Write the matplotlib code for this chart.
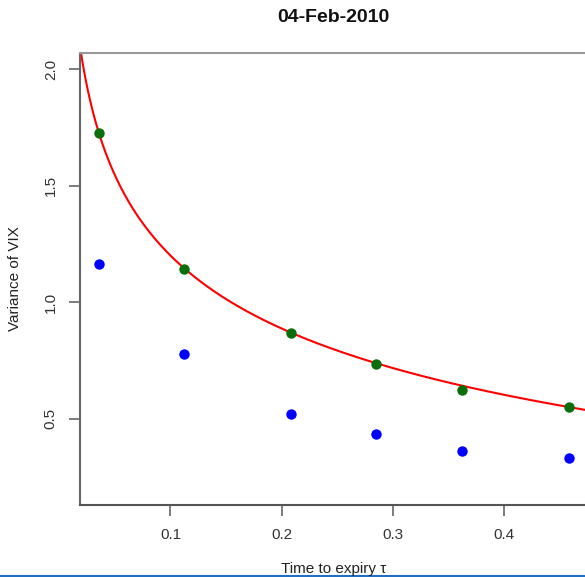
import numpy as np
import matplotlib
matplotlib.use("Agg")
import matplotlib.pyplot as plt
from matplotlib.lines import Line2D

plt.rcParams['font.family'] = ['Liberation Sans', 'DejaVu Sans']

# Data
tau = [0.0356, 0.1126, 0.2084, 0.2849, 0.3619, 0.4579]
var_model = [1.728, 1.141, 0.869, 0.733, 0.623, 0.550]   # green points
var_market = [1.164, 0.778, 0.521, 0.435, 0.362, 0.330]  # blue points
# fitted curve: v = a * tau^(-b) + c
curve_params = [2.456, 0.14, -2.190]
x_ticks = [0.1, 0.2, 0.3, 0.4]
y_ticks = [0.5, 1.0, 1.5, 2.0]
title = "04-Feb-2010"
xlabel = "Time to expiry \u03c4"
ylabel = "Variance of VIX"

W, H = 585, 577
fig = plt.figure(figsize=(W / 100, H / 100), dpi=100)
ax_left = 80 / W
ax_right = 587.5 / W
ax_bottom = (H - 504.7) / H
ax_top = (H - 52.7) / H
ax = fig.add_axes([ax_left, ax_bottom, ax_right - ax_left, ax_top - ax_bottom])

xlim = (0.0187, 0.4748)
ylim = (0.1305, 2.071)
a, b, c = curve_params
tt = np.linspace(xlim[0], xlim[1], 400)
ax.plot(tt, a * tt ** (-b) + c, color='#ff0000', lw=1.5, zorder=2)
ax.plot(tau, var_market, 'o', color='#0000ff', ms=7.5, mec='none', zorder=3)
ax.plot(tau, var_model, 'o', color='#0a6e0a', ms=7.5, mec='none', zorder=3)

ax.set_xlim(*xlim)
ax.set_ylim(*ylim)
ax.set_xticks(x_ticks)
ax.set_xticklabels([f"{v:.1f}" for v in x_ticks])
ax.set_yticks(y_ticks)
ax.set_yticklabels([f"{v:.1f}" for v in y_ticks], rotation=90, va='center')

for side, col in [('left', '#666666'), ('bottom', '#555555'), ('top', '#999999'), ('right', '#666666')]:
    ax.spines[side].set_color(col)
    ax.spines[side].set_linewidth(1.5)

ax.tick_params(axis='both', direction='out', length=8, width=1.2, color='#666666',
               labelcolor='#333333', labelsize=11)
ax.tick_params(axis='x', pad=9)
ax.tick_params(axis='y', pad=8)

cx = (80 + 587.5) / 2 / W
fig.text(cx, (H - 18) / H, title, fontsize=14, fontweight='bold',
         ha='center', va='center', color='#111111')
fig.text(cx, (H - 569) / H, xlabel, fontsize=11,
         ha='center', va='center', color='#222222')
fig.text(15 / W, (H - 279) / H, ylabel, fontsize=11, rotation=90,
         ha='center', va='center', color='#222222')

# thin blue border line at the bottom of the screenshot
fig.add_artist(Line2D([0, 1], [1.0 / H, 1.0 / H], transform=fig.transFigure,
                      color='#1f6fc5', lw=1.5))

fig.savefig("out.png", dpi=100)
